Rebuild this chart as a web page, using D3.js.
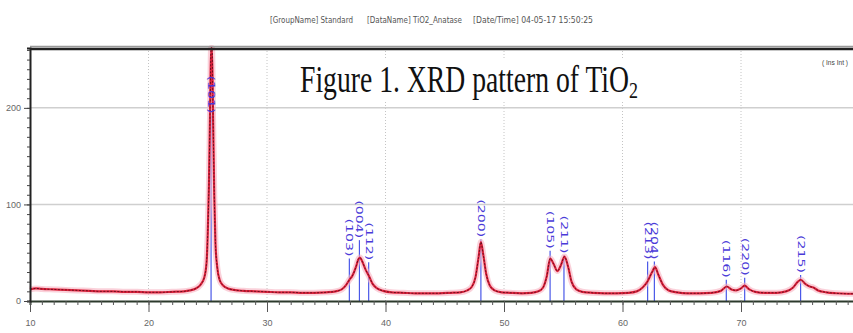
<!DOCTYPE html>
<html>
<head>
<meta charset="utf-8">
<script src="https://cdn.jsdelivr.net/npm/d3@7"></script>
<style>
  body { margin: 0; background: #fff; }
  svg { display: block; }
</style>
</head>
<body>
<svg id="chart" width="853" height="333"></svg>
<script>
const twoTheta = [10, 10.5, 11, 12, 13, 14, 15, 16, 17, 18, 19, 20, 21, 22, 23, 23.5, 24, 24.4, 24.7, 24.9, 25.0, 25.1, 25.2, 25.28, 25.36, 25.45, 25.55, 25.65, 25.8, 26.0, 26.3, 26.7, 27.2, 28, 29, 30, 31, 32, 33, 34, 35, 35.8, 36.3, 36.7, 36.95, 37.2, 37.5, 37.7, 37.85, 38.0, 38.3, 38.6, 38.9, 39.3, 39.8, 40.5, 41.5, 42.5, 43.5, 44.5, 45.5, 46.3, 46.9, 47.3, 47.6, 47.85, 48.05, 48.25, 48.5, 48.8, 49.2, 49.8, 50.5, 51.5, 52.3, 52.9, 53.3, 53.6, 53.9, 54.2, 54.5, 54.8, 55.1, 55.4, 55.7, 56.1, 56.6, 57.5, 58.5, 59.5, 60.5, 61.2, 61.7, 62.1, 62.5, 62.75, 63.0, 63.4, 63.9, 64.6, 65.5, 66.5, 67.5, 68.3, 68.8, 69.2, 69.6, 70.0, 70.3, 70.7, 71.2, 72, 73, 73.8, 74.4, 74.8, 75.05, 75.4, 75.8, 76.1, 76.5, 77.2, 78, 79, 80];
const counts = [12, 13, 12.5, 12, 11.5, 11, 10.5, 10, 10, 9.5, 9.5, 9, 9, 9.5, 10, 11, 13, 17, 24, 40, 70, 120, 200, 262, 262, 190, 110, 60, 35, 22, 16, 13, 11.5, 10.5, 10, 9.5, 9, 9, 8.5, 8.5, 9, 10, 12, 17, 22, 26, 35, 43, 45, 42, 33, 26, 18, 13, 10.5, 9, 8.5, 8, 8, 8, 8.5, 9, 11, 15, 25, 45, 61, 48, 28, 16, 11, 9, 8.5, 8, 8.5, 10, 14, 25, 44, 38, 31, 37, 46, 36, 20, 12, 9.5, 8.5, 8, 8, 8.5, 10, 14, 20, 30, 35, 28, 17, 11, 9, 8, 8, 8.5, 10.5, 15, 12, 11, 13, 16, 12, 9.5, 8.5, 8.5, 10, 14, 20, 22, 18, 15, 14, 11, 9, 8, 7.5, 7.5];

// anatase reference lines
const peakPos = [25.28, 36.95, 37.8, 38.58, 48.05, 53.89, 55.06, 62.12, 62.69, 68.76, 70.31, 75.03];
const peakHkl = ["(101)", "(103)", "(004)", "(112)", "(200)", "(105)", "(211)", "(213)", "(204)", "(116)", "(220)", "(215)"];
const stickTop = [192, 44, 63, 40, 64, 52, 47, 41, 41, 22, 24, 27];

const xTicks = [10, 20, 30, 40, 50, 60, 70];
const xTickLabels = ["10", "20", "30", "40", "50", "60", "70"];
const yTicks = [0, 100, 200];
const yTickLabels = ["0", "100", "200"];

const svg = d3.select("#chart");
const W = 853;

const x = d3.scaleLinear().domain([10, 80]).range([30, 859.5]);
const y = d3.scaleLinear().domain([0, 262]).range([301, 48]);

// header line
const head = svg.append("g")
  .attr("font-family", "'Liberation Sans Narrow', 'DejaVu Sans Condensed', sans-serif")
  .attr("font-size", 8)
  .attr("fill", "#555");
head.append("text").attr("x", 270).attr("y", 23).attr("textLength", 83).attr("lengthAdjust", "spacingAndGlyphs").text("[GroupName] Standard");
head.append("text").attr("x", 367).attr("y", 23).attr("textLength", 95).attr("lengthAdjust", "spacingAndGlyphs").text("[DataName] TiO2_Anatase");
head.append("text").attr("x", 473).attr("y", 23).attr("textLength", 120).attr("lengthAdjust", "spacingAndGlyphs").text("[Date/Time] 04-05-17 15:50:25");

// grid
svg.append("g").selectAll("line")
  .data([20, 30, 40, 50, 60, 70])
  .join("line")
  .attr("x1", d => x(d)).attr("x2", d => x(d))
  .attr("y1", y(262)).attr("y2", y(0))
  .attr("stroke", "#c4c4c4")
  .attr("stroke-width", 1)
  .attr("stroke-dasharray", "1,2");

svg.append("g").selectAll("line")
  .data(yTicks.slice(1))
  .join("line")
  .attr("x1", x(10)).attr("x2", W)
  .attr("y1", d => y(d)).attr("y2", d => y(d))
  .attr("stroke", "#cfcfcf")
  .attr("stroke-width", 1.5);

// title annotation on white box
const title = svg.append("g");
title.append("rect").attr("x", 296).attr("y", 58).attr("width", 350).attr("height", 44).attr("fill", "#fff");
const tt = title.append("text")
  .attr("x", 300).attr("y", 92)
  .attr("font-family", "'Liberation Serif', 'Times New Roman', serif")
  .attr("font-size", 37)
  .attr("fill", "#111")
  .attr("textLength", 338)
  .attr("lengthAdjust", "spacingAndGlyphs");
tt.append("tspan").text("Figure 1. XRD pattern of TiO");
tt.append("tspan").attr("font-size", 24).attr("dy", 6).text("2");

// corner note
svg.append("text")
  .attr("x", 822).attr("y", 65)
  .attr("font-family", "'Liberation Sans Narrow', sans-serif")
  .attr("font-size", 7)
  .attr("fill", "#444")
  .attr("textLength", 26)
  .attr("lengthAdjust", "spacingAndGlyphs")
  .text("( Ins Int )");

// reference sticks
svg.append("g").selectAll("line")
  .data(peakPos)
  .join("line")
  .attr("x1", d => x(d)).attr("x2", d => x(d))
  .attr("y1", y(0)).attr("y2", (d, i) => y(stickTop[i]))
  .attr("stroke", "#4a58e8")
  .attr("stroke-width", 1.2);

// pattern
const pts = twoTheta.map((t, i) => [t, counts[i]]);
const line = d3.line()
  .x(d => x(d[0]))
  .y(d => y(Math.min(d[1], 262)))
  .curve(d3.curveMonotoneX);

svg.append("path").datum(pts).attr("d", line)
  .attr("fill", "none").attr("stroke", "#f6b3c2").attr("stroke-width", 6).attr("opacity", 0.6);
svg.append("path").datum(pts).attr("d", line)
  .attr("fill", "none").attr("stroke", "#e2243e").attr("stroke-width", 2.2);
svg.append("path").datum(pts).attr("d", line)
  .attr("fill", "none").attr("stroke", "#5a0c1c").attr("stroke-width", 0.9)
  .attr("stroke-dasharray", "2,1.5");

// hkl labels on top of the pattern
svg.append("g").selectAll("text")
  .data(peakPos)
  .join("text")
  .attr("transform", (d, i) => `translate(${x(d) - 3},${y(stickTop[i]) - 40}) rotate(90)`)
  .attr("font-family", "'DejaVu Sans', sans-serif")
  .attr("font-size", 9)
  .attr("fill", "#4a3ad8")
  .attr("textLength", 38)
  .attr("lengthAdjust", "spacingAndGlyphs")
  .text((d, i) => peakHkl[i]);

// frame
svg.append("line").attr("x1", 30).attr("x2", W).attr("y1", 46.5).attr("y2", 46.5)
  .attr("stroke", "#999").attr("stroke-width", 1.5);
svg.append("line").attr("x1", 30).attr("x2", W).attr("y1", 49).attr("y2", 49)
  .attr("stroke", "#222").attr("stroke-width", 2.5);

// axes
const xAxis = svg.append("g")
  .attr("transform", `translate(0,${y(0)})`)
  .call(d3.axisBottom(x).tickValues(d3.range(10, 80, 1)).tickSize(4).tickFormat(""));
xAxis.select(".domain").attr("stroke", "#2c3a2c").attr("stroke-width", 2);
xAxis.selectAll(".tick line").attr("stroke", "#555");

const xMajor = svg.append("g")
  .attr("transform", `translate(0,${y(0)})`)
  .call(d3.axisBottom(x).tickValues(xTicks).tickSize(11).tickPadding(8)
    .tickFormat((d, i) => xTickLabels[i]));
xMajor.select(".domain").remove();
xMajor.selectAll(".tick line").attr("stroke", "#555");
xMajor.selectAll("text")
  .attr("font-family", "'Liberation Sans Narrow', sans-serif")
  .attr("font-size", 9).attr("fill", "#666");

const yAxis = svg.append("g")
  .attr("transform", `translate(30,0)`)
  .call(d3.axisLeft(y).tickValues(d3.range(0, 261, 10)).tickSize(3).tickFormat(""));
yAxis.select(".domain").attr("stroke", "#222").attr("stroke-width", 2);
yAxis.selectAll(".tick line").attr("stroke", "#444");

const yMajor = svg.append("g")
  .attr("transform", `translate(30,0)`)
  .call(d3.axisLeft(y).tickValues(yTicks).tickSize(6).tickPadding(3)
    .tickFormat((d, i) => yTickLabels[i]));
yMajor.select(".domain").remove();
yMajor.selectAll(".tick line").attr("stroke", "#444");
yMajor.selectAll("text")
  .attr("font-family", "'Liberation Sans Narrow', sans-serif")
  .attr("font-size", 9).attr("fill", "#666");
</script>
</body>
</html>
